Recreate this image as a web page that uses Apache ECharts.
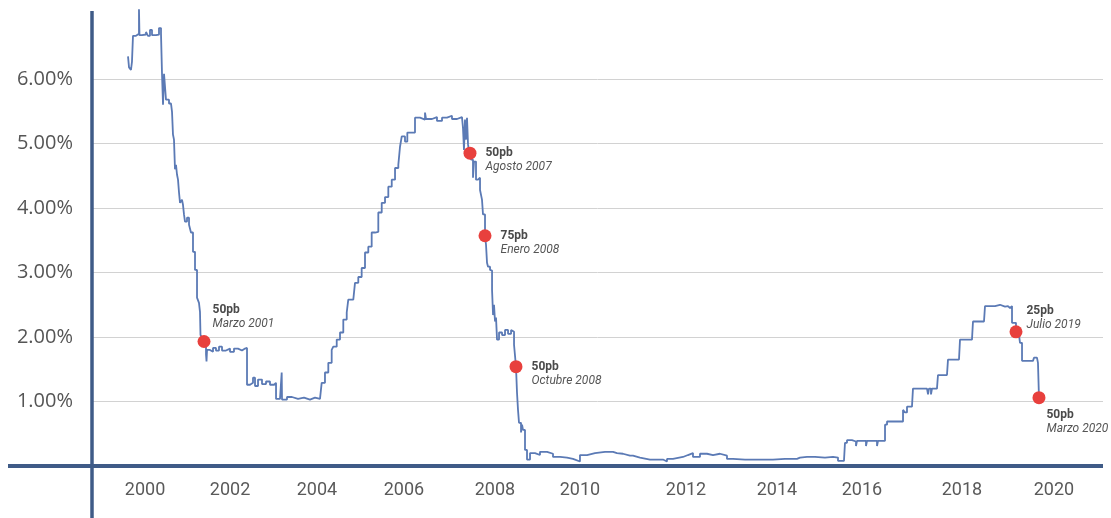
<!DOCTYPE html>
<html>
<head>
<meta charset="utf-8">
<script src="https://cdn.jsdelivr.net/npm/echarts@6/dist/echarts.min.js"></script>
<style>
  html, body { margin: 0; padding: 0; background: #ffffff; }
  #chart { width: 1111px; height: 518px; }
</style>
</head>
<body>
<div id="chart"></div>
<script>
// Effective federal funds rate, [decimal year, percent]
const fedRate = [
  [2000.300, 6.35], [2000.322, 6.18], [2000.365, 6.14], [2000.387, 6.27], [2000.409, 6.67],
  [2000.475, 6.66], [2000.518, 6.70], [2000.540, 7.08], [2000.551, 6.68], [2000.606, 6.69],
  [2000.694, 6.73], [2000.737, 6.67], [2000.781, 6.76], [2000.825, 6.68], [2000.912, 6.69],
  [2000.978, 6.79], [2001.022, 6.70], [2001.044, 6.08], [2001.066, 5.60], [2001.088, 6.08],
  [2001.109, 6.05], [2001.131, 5.68], [2001.197, 5.62], [2001.241, 5.65], [2001.263, 5.49],
  [2001.284, 5.14], [2001.306, 5.06], [2001.328, 4.60], [2001.350, 4.67], [2001.372, 4.52],
  [2001.394, 4.44], [2001.416, 4.24], [2001.438, 4.08], [2001.481, 4.13], [2001.503, 4.05],
  [2001.525, 3.90], [2001.547, 3.79], [2001.591, 3.85], [2001.635, 3.74], [2001.678, 3.62],
  [2001.722, 3.32], [2001.766, 3.04], [2001.810, 2.61], [2001.832, 2.58], [2001.853, 2.53],
  [2001.875, 2.39], [2001.886, 2.03], [2001.919, 1.99], [2001.963, 1.93], [2002.007, 1.73],
  [2002.018, 1.62], [2002.029, 1.80], [2002.094, 1.77], [2002.160, 1.83], [2002.225, 1.79],
  [2002.291, 1.85], [2002.357, 1.79], [2002.444, 1.82], [2002.532, 1.77], [2002.619, 1.82],
  [2002.707, 1.79], [2002.794, 1.82], [2002.860, 1.83], [2002.882, 1.83], [2002.904, 1.26],
  [2002.970, 1.29], [2003.035, 1.37], [2003.079, 1.24], [2003.145, 1.34], [2003.232, 1.27],
  [2003.320, 1.31], [2003.407, 1.26], [2003.495, 1.29], [2003.517, 1.29], [2003.539, 1.04],
  [2003.626, 1.06], [2003.659, 1.03], [2003.663, 1.45], [2003.670, 1.03], [2003.779, 1.07],
  [2003.888, 1.04], [2004.020, 1.06], [2004.151, 1.03], [2004.282, 1.06], [2004.392, 1.04],
  [2004.501, 1.06], [2004.538, 1.29], [2004.610, 1.45], [2004.683, 1.60], [2004.757, 1.80],
  [2004.792, 1.85], [2004.867, 1.96], [2004.939, 2.07], [2005.011, 2.27], [2005.086, 2.38],
  [2005.120, 2.58], [2005.230, 2.61], [2005.267, 2.84], [2005.339, 2.93], [2005.413, 3.07],
  [2005.486, 3.31], [2005.558, 3.40], [2005.632, 3.62], [2005.705, 3.63], [2005.777, 3.93],
  [2005.852, 4.08], [2005.924, 4.17], [2005.996, 4.33], [2006.071, 4.44], [2006.143, 4.62],
  [2006.215, 4.67], [2006.252, 4.95], [2006.290, 5.11], [2006.361, 5.03], [2006.412, 5.17],
  [2006.508, 5.17], [2006.580, 5.40], [2006.690, 5.37], [2006.799, 5.48], [2006.821, 5.38],
  [2006.952, 5.41], [2007.061, 5.35], [2007.171, 5.40], [2007.280, 5.43], [2007.389, 5.38],
  [2007.499, 5.41], [2007.608, 5.41], [2007.630, 5.24], [2007.652, 4.90], [2007.674, 5.37],
  [2007.696, 5.06], [2007.718, 5.40], [2007.740, 4.99], [2007.762, 4.87], [2007.783, 4.85],
  [2007.805, 4.75], [2007.849, 4.47], [2007.871, 4.72], [2007.915, 4.44], [2007.959, 4.47],
  [2008.003, 4.28], [2008.046, 4.13], [2008.068, 3.90], [2008.112, 3.57], [2008.134, 3.43],
  [2008.156, 3.15], [2008.178, 3.09], [2008.222, 3.04], [2008.255, 3.03], [2008.266, 2.73],
  [2008.288, 2.34], [2008.309, 2.50], [2008.331, 2.24], [2008.353, 2.30], [2008.375, 1.96],
  [2008.419, 2.07], [2008.485, 2.03], [2008.550, 2.11], [2008.616, 2.05], [2008.682, 2.11],
  [2008.725, 2.08], [2008.747, 1.88], [2008.790, 1.54], [2008.812, 1.14], [2008.834, 0.87],
  [2008.856, 0.67], [2008.900, 0.52], [2008.922, 0.64], [2008.943, 0.56], [2008.987, 0.25],
  [2009.031, 0.10], [2009.097, 0.20], [2009.206, 0.17], [2009.315, 0.22], [2009.469, 0.19],
  [2009.600, 0.14], [2009.753, 0.13], [2009.906, 0.11], [2010.037, 0.10], [2010.081, 0.07],
  [2010.190, 0.17], [2010.344, 0.20], [2010.519, 0.22], [2010.738, 0.22], [2010.913, 0.20],
  [2011.000, 0.19], [2011.131, 0.16], [2011.284, 0.16], [2011.350, 0.13], [2011.503, 0.10],
  [2011.722, 0.10], [2011.875, 0.10], [2012.006, 0.07], [2012.094, 0.11], [2012.225, 0.14],
  [2012.444, 0.17], [2012.553, 0.20], [2012.663, 0.14], [2012.816, 0.19], [2012.969, 0.17],
  [2013.101, 0.19], [2013.254, 0.16], [2013.407, 0.11], [2013.538, 0.10], [2013.801, 0.10],
  [2014.063, 0.10], [2014.282, 0.10], [2014.413, 0.11], [2014.676, 0.11], [2014.938, 0.13],
  [2015.004, 0.14], [2015.158, 0.14], [2015.333, 0.13], [2015.551, 0.14], [2015.726, 0.13],
  [2015.836, 0.08], [2015.967, 0.11], [2015.989, 0.36], [2016.033, 0.40], [2016.142, 0.38],
  [2016.230, 0.31], [2016.252, 0.39], [2016.383, 0.39], [2016.449, 0.31], [2016.471, 0.39],
  [2016.624, 0.39], [2016.690, 0.31], [2016.712, 0.39], [2016.821, 0.39], [2016.865, 0.64],
  [2016.909, 0.69], [2017.084, 0.69], [2017.215, 0.69], [2017.259, 0.87], [2017.302, 0.83],
  [2017.346, 0.92], [2017.455, 0.92], [2017.477, 1.20], [2017.630, 1.20], [2017.784, 1.20],
  [2017.806, 1.11], [2017.827, 1.20], [2017.871, 1.11], [2017.893, 1.20], [2018.002, 1.20],
  [2018.024, 1.41], [2018.221, 1.41], [2018.243, 1.65], [2018.484, 1.65], [2018.506, 1.96],
  [2018.768, 1.96], [2018.790, 2.24], [2019.031, 2.24], [2019.053, 2.48], [2019.272, 2.50],
  [2019.381, 2.47], [2019.491, 2.48], [2019.556, 2.45], [2019.600, 2.48], [2019.644, 2.22],
  [2019.731, 2.08], [2019.797, 2.03], [2019.819, 1.91], [2019.863, 1.63], [2020.103, 1.63],
  [2020.125, 1.68], [2020.190, 1.68], [2020.212, 1.60], [2020.234, 1.06]
];

// Rate cuts highlighted on the curve
const calloutTime = [2001.963, 2007.783, 2008.112, 2008.790, 2019.731, 2020.234];
const calloutRate = [1.93, 4.85, 3.57, 1.54, 2.08, 1.06];
const calloutCut  = ['50pb', '50pb', '75pb', '50pb', '25pb', '50pb'];
const calloutDate = ['Marzo 2001', 'Agosto 2007', 'Enero 2008', 'Octubre 2008', 'Julio 2019', 'Marzo 2020'];

// Axis ticks
const rateTicks = [1, 2, 3, 4, 5, 6];
const yearLabels = ['2000', '2002', '2004', '2006', '2008', '2010', '2012', '2014', '2016', '2018', '2020'];
const yearLabelAt = [2000.672, 2002.532, 2004.435, 2006.339, 2008.330, 2010.190, 2012.510, 2014.501, 2016.361, 2018.549, 2020.562];

// Callout text placement: [gap right of the dot, vertical shift of the text block]
const calloutPlacement = [[2, -25], [9, 7], [9, 7], [9, 7], [4, -14], [1, 24]];

const X_MIN = 1999.512, X_MAX = 2021.635, Y_MIN = 0, Y_MAX = 7.07;
const AXIS_COLOR = '#3f5b87';

const chart = echarts.init(document.getElementById('chart'), null, { renderer: 'canvas' });

const calloutData = calloutTime.map((t, i) => ({
  value: [t, calloutRate[i]],
  label: {
    show: true,
    position: 'right',
    distance: calloutPlacement[i][0],
    offset: [0, calloutPlacement[i][1]],
    formatter: '{b|' + calloutCut[i] + '}\n{i|' + calloutDate[i] + '}'
  }
}));

function nearestYearLabel(v) {
  let k = 0;
  yearLabelAt.forEach((a, i) => { if (Math.abs(a - v) < Math.abs(yearLabelAt[k] - v)) k = i; });
  return yearLabels[k];
}

chart.setOption({
  animation: false,
  backgroundColor: '#ffffff',
  grid: { left: 92, right: 8, top: 10, bottom: 52, containLabel: false },
  xAxis: {
    type: 'value',
    min: X_MIN,
    max: X_MAX,
    axisLine: { show: false },
    axisTick: { show: false, customValues: yearLabelAt },
    splitLine: { show: false },
    axisLabel: {
      customValues: yearLabelAt,
      formatter: nearestYearLabel,
      margin: 15,
      fontFamily: 'Roboto',
      fontSize: 18,
      color: '#5a5a5a'
    }
  },
  yAxis: {
    type: 'value',
    min: Y_MIN,
    max: Y_MAX,
    axisLine: { show: false },
    axisTick: { show: false, customValues: rateTicks },
    axisLabel: {
      customValues: rateTicks,
      formatter: v => v.toFixed(2) + '%',
      margin: 19,
      fontFamily: 'Open Sans',
      fontSize: 20,
      color: '#555555'
    },
    splitLine: { show: true, lineStyle: { color: '#d2d2d2', width: 1 } }
  },
  series: [
    {
      // daily-style series: each reading holds until the next one
      type: 'line',
      data: fedRate,
      step: 'end',
      showSymbol: false,
      clip: false,
      lineStyle: { color: '#5b7ab5', width: 1.8 },
      z: 3
    },
    {
      type: 'scatter',
      data: calloutData,
      symbol: 'circle',
      symbolSize: 13,
      itemStyle: { color: '#e8403d', opacity: 1 },
      z: 5,
      label: {
        rich: {
          b: { fontFamily: 'Roboto', fontWeight: 'bold', fontSize: 12, color: '#4a4a4a', lineHeight: 14 },
          i: { fontFamily: 'Roboto', fontStyle: 'italic', fontSize: 12, color: '#555555', lineHeight: 14 }
        }
      }
    }
  ]
});

// Heavy axis lines: the baseline runs past the rate axis on the left,
// and the rate axis runs down past the baseline to the bottom edge.
const origin = chart.convertToPixel({ gridIndex: 0 }, [X_MIN, 0]);
const corner = chart.convertToPixel({ gridIndex: 0 }, [X_MAX, Y_MAX]);
chart.setOption({
  graphic: [
    {
      type: 'line', z: 4,
      shape: { x1: origin[0] - 84, y1: origin[1], x2: corner[0], y2: origin[1] },
      style: { stroke: AXIS_COLOR, lineWidth: 4 }
    },
    {
      type: 'line', z: 4,
      shape: { x1: origin[0], y1: corner[1] + 1, x2: origin[0], y2: chart.getHeight() },
      style: { stroke: AXIS_COLOR, lineWidth: 3.5 }
    }
  ]
});
</script>
</body>
</html>
